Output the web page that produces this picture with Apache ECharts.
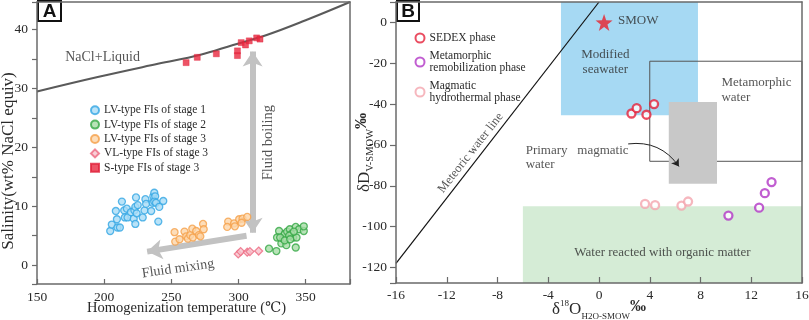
<!DOCTYPE html>
<html>
<head>
<meta charset="utf-8">
<script src="https://cdn.jsdelivr.net/npm/echarts@6/dist/echarts.min.js"></script>
<style>html,body{margin:0;padding:0;background:#fff}#c{width:809px;height:320px}</style>
</head>
<body>
<div id="c"></div>
<script>
// ---------- Panel A data ----------
const haliteCurve = [[150,29.5],[196,32.0],[240,34.2],[271,35.7],[296,37.4],[321,39.1],[350,41.6],[383,44.7]];
const lvStage1 = [[204.5,5.8],[205.7,6.9],[209.9,6.4],[211.7,6.4],[209.5,7.8],[208.7,9.2],[213.2,10.8],[214.9,9.3],[216.9,9.6],[215.4,8.1],[217.4,8.1],[219.9,9.0],[222.5,9.3],[222.0,7.9],[223.2,9.9],[223.7,11.5],[223.2,7.0],[224.2,8.8],[225.0,10.2],[228.7,8.1],[230.7,11.2],[230.0,9.3],[231.2,10.4],[235.0,9.2],[236.1,10.6],[236.6,11.7],[237.3,12.3],[238.0,11.7],[237.3,10.8],[238.6,10.6],[240.3,7.4],[241.0,9.9],[244.0,10.9]];
const lvStage2 = [[330.2,5.8],[328.7,4.7],[322.7,2.8],[328.2,2.4],[331.9,3.7],[335.6,3.4],[342.6,3.0],[333.2,4.5],[334.4,5.3],[336.2,5.7],[338.2,6.1],[339.5,5.3],[340.7,4.7],[343.2,4.7],[342.6,6.5],[345.1,6.1],[348.6,5.8],[348.6,6.6],[337.7,5.0],[341.2,5.7],[331.0,4.7],[334.4,4.2],[338.5,4.4]];
const lvStage3 = [[252.4,5.6],[252.9,4.0],[256.1,4.4],[259.8,5.7],[261.1,4.9],[262.3,4.5],[264.1,5.1],[265.6,6.2],[266.0,4.7],[268.5,5.8],[270.5,5.1],[273.6,7.0],[274.1,6.1],[271.6,4.9],[292.3,7.4],[291.6,6.5],[296.7,7.1],[297.3,6.6],[300.5,7.8],[303.0,7.9],[302.3,7.2],[306.5,8.2]];
const vlStage3 = [[299.8,1.9],[301.6,2.3],[306.5,2.2],[308.5,2.3],[315.0,2.4]];
const sStage3 = [[261,34.4],[269.3,35.3],[283.5,35.9],[299.2,36.4],[299.2,35.6],[302,37.8],[305.2,37.4],[308,38.1],[313.5,38.6],[316,38.4]];
const boilingArrow = [[310.5,5.5],[310.5,36.3]];
const mixingArrow = [[306,5.0],[232,2.3]];
const aNames = ['LV-type FIs of stage 1','LV-type FIs of stage 2','LV-type FIs of stage 3','VL-type FIs of stage 3','S-type FIs of stage 3'];
const aXTicks = [150,200,250,300,350];
const aYTicks = [0,10,20,30,40];

// ---------- Panel B data ----------
const sedex = [[2.56,-44.6],[2.97,-42.0],[3.74,-45.2],[4.34,-40.0]];
const metaRemob = [[10.2,-94.6],[12.62,-90.7],[13.07,-83.6],[13.6,-78.2]];
const magHydro = [[3.63,-88.9],[4.42,-89.5],[6.5,-89.7],[7.02,-87.7]];
const smow = [[0.4,0]];
const meteoricLine = [[-16,-118],[0,10]];
const seawaterBox = [[-3,10],[7.8,-45.5]];
const metamorphicBox = [[4,-19],[16,-68]];
const magmaticBox = [[5.5,-39],[9.3,-79]];
const organicBox = [[-6,-90],[16,-127.6]];
const leaderArrow = [[2.3,-59.5],[6.3,-70.5]];
const bNames = ['SEDEX phase','Metamorphic\nremobilization phase','Magmatic\nhydrothermal phase'];
const bXTicks = [-16,-12,-8,-4,0,4,8,12,16];
const bYTicks = [0,-20,-40,-60,-80,-100,-120];

const serif = '"Liberation Serif","DejaVu Serif",serif';
const axisColor = '#6a6a6a';
const txt = '#2a2a2a';

function frameAxis(grid, pos, min, max) {
  return {type:'value', gridIndex:grid, position:pos, min:min, max:max, z:6,
    axisLine:{show:true, onZero:false, lineStyle:{color:axisColor, width:1.5}},
    axisTick:{show:false}, axisLabel:{show:false}, splitLine:{show:false}};
}
function textItems(list) {
  return list.map(t => ({value:[t[0],t[1]], name:t[2], label:t[3] || {}}));
}
function textSeries(xi, yi, list, base) {
  return {type:'scatter', xAxisIndex:xi, yAxisIndex:yi, symbolSize:0, silent:true, z:8,
    label:Object.assign({show:true, position:'inside', formatter:'{b}', fontFamily:serif, color:txt, fontSize:13}, base||{}),
    data:textItems(list)};
}
const tickFmt = (ticks) => (v => ticks.indexOf(Math.round(v*1000)/1000) >= 0 ? String(v) : '');

const chart = echarts.init(document.getElementById('c'), null, {renderer:'canvas'});
const option = {
  animation:false,
  backgroundColor:'#fff',
  grid:[{left:37, top:2, width:313, height:282, outerBoundsMode:'none', containLabel:false},
        {left:396, top:2, width:406, height:281, outerBoundsMode:'none', containLabel:false}],
  xAxis:[
    {type:'value', gridIndex:0, min:150, max:383, interval:50, z:6,
     axisLine:{onZero:false, lineStyle:{color:axisColor, width:1.5}},
     axisTick:{inside:true, length:5, lineStyle:{color:axisColor, width:1.2}},
     axisLabel:{margin:6, fontFamily:serif, fontSize:13.5, color:txt, formatter:tickFmt(aXTicks)},
     splitLine:{show:false},
     name:'Homogenization temperature (℃)', nameLocation:'middle', nameGap:17, nameMoveOverlap:false,
     nameTextStyle:{fontFamily:serif, fontSize:14.5, color:txt, padding:[0,14,0,0]}},
    frameAxis(0,'top',150,383),
    {type:'value', gridIndex:1, min:-16, max:16, interval:4, z:6,
     axisLine:{onZero:false, lineStyle:{color:axisColor, width:1.5}},
     axisTick:{inside:true, length:6, lineStyle:{color:axisColor, width:1.2}},
     axisLabel:{margin:5, fontFamily:serif, fontSize:13.5, color:txt, formatter:tickFmt(bXTicks)},
     splitLine:{show:false},
     name:'{d|δ}{sup|18}{o|O}{sub|H2O-SMOW}{pm|‰}', nameLocation:'middle', nameGap:16, nameMoveOverlap:false,
     nameTextStyle:{fontFamily:serif, color:txt, rich:{
       d:{fontFamily:serif, fontSize:17, lineHeight:22, color:txt},
       sup:{fontFamily:serif, fontSize:9, lineHeight:9, verticalAlign:'top', color:txt},
       o:{fontFamily:serif, fontSize:17, lineHeight:22, color:txt},
       sub:{fontFamily:serif, fontSize:9, lineHeight:9, verticalAlign:'bottom', color:txt},
       pm:{fontFamily:serif, fontSize:16, lineHeight:22, color:txt, fontWeight:'bold', padding:[0,0,6,0]}}}},
    frameAxis(1,'top',-16,16)
  ],
  yAxis:[
    {type:'value', gridIndex:0, min:-3.2, max:44.7, minInterval:5, maxInterval:5, z:6,
     axisLine:{onZero:false, lineStyle:{color:axisColor, width:1.5}},
     axisTick:{length:5, lineStyle:{color:axisColor, width:1.2}},
     axisLabel:{margin:9, fontFamily:serif, fontSize:13.5, color:txt, formatter:tickFmt(aYTicks)},
     splitLine:{show:false},
     name:'Salinity(wt% NaCl equiv)', nameLocation:'middle', nameGap:20, nameRotate:90, nameMoveOverlap:false,
     nameTextStyle:{fontFamily:serif, fontSize:17, color:txt, padding:[0,36,0,0]}},
    frameAxis(0,'right',-3.2,44.7),
    {type:'value', gridIndex:1, min:-127.6, max:10, minInterval:20, maxInterval:20, z:6,
     axisLine:{onZero:false, lineStyle:{color:axisColor, width:1.5}},
     axisTick:{length:6, lineStyle:{color:axisColor, width:1.2}},
     axisLabel:{margin:9, fontFamily:serif, fontSize:13.5, color:txt, formatter:tickFmt(bYTicks)},
     splitLine:{show:false},
     name:'{d|δD}{sub|V-SMOW}{pm|‰}', nameLocation:'middle', nameGap:20, nameRotate:90, nameMoveOverlap:false,
     nameTextStyle:{fontFamily:serif, color:txt, padding:[0,20,0,0], rich:{
       d:{fontFamily:serif, fontSize:17, lineHeight:22, color:txt},
       sub:{fontFamily:serif, fontSize:10.5, lineHeight:10, verticalAlign:'bottom', color:txt},
       pm:{fontFamily:serif, fontSize:16, lineHeight:22, color:txt, fontWeight:'bold', padding:[0,0,6,0]}}}},
    frameAxis(1,'right',-127.6,10)
  ],
  legend:[
    {left:90, top:103, padding:0, orient:'vertical', itemWidth:8, itemHeight:8, itemGap:0, selectedMode:false,
     textStyle:{fontFamily:serif, fontSize:11.5, color:txt, lineHeight:14.4}, data:aNames},
    {left:414.5, top:32, padding:0, orient:'vertical', itemWidth:9, itemHeight:9, itemGap:6, selectedMode:false,
     textStyle:{fontFamily:serif, fontSize:11.5, color:txt, lineHeight:12}, data:bNames}
  ],
  graphic:[
    {type:'group', left:37, top:0, z:100, children:[
      {type:'rect', shape:{x:0,y:0,width:23,height:20}, style:{fill:'#fff', stroke:'#111', lineWidth:2}},
      {type:'text', style:{text:'A', x:11.5, y:10.5, align:'center', verticalAlign:'middle', font:'bold 19px "Liberation Sans", Arial, sans-serif', fill:'#111'}}]},
    {type:'group', left:396, top:0, z:100, children:[
      {type:'rect', shape:{x:0,y:0,width:22,height:20}, style:{fill:'#fff', stroke:'#111', lineWidth:2}},
      {type:'text', style:{text:'B', x:11, y:10.5, align:'center', verticalAlign:'middle', font:'bold 19px "Liberation Sans", Arial, sans-serif', fill:'#111'}}]}
  ],
  series:[
    // ---- Panel A ----
    {type:'line', name:'halite', xAxisIndex:0, yAxisIndex:0, data:haliteCurve, smooth:0.4, showSymbol:false, silent:true,
     lineStyle:{color:'#5a5a5a', width:2}, z:3},
    {type:'lines', coordinateSystem:'cartesian2d', xAxisIndex:0, yAxisIndex:0, silent:true, z:2,
     symbol:['arrow','arrow'], symbolSize:15,
     lineStyle:{color:'#c2c2c2', width:6, opacity:1},
     data:[{coords:boilingArrow}]},
    {type:'lines', coordinateSystem:'cartesian2d', xAxisIndex:0, yAxisIndex:0, silent:true, z:2,
     symbol:['none','arrow'], symbolSize:15,
     lineStyle:{color:'#c2c2c2', width:6, opacity:1},
     data:[{coords:mixingArrow}]},
    {type:'scatter', name:aNames[0], xAxisIndex:0, yAxisIndex:0, data:lvStage1, symbol:'circle', symbolSize:7, z:4,
     itemStyle:{color:'#a9dcf6', borderColor:'#33a6e4', borderWidth:1.3}},
    {type:'scatter', name:aNames[1], xAxisIndex:0, yAxisIndex:0, data:lvStage2, symbol:'circle', symbolSize:7, z:4,
     itemStyle:{color:'#a6dca6', borderColor:'#35a845', borderWidth:1.3}},
    {type:'scatter', name:aNames[2], xAxisIndex:0, yAxisIndex:0, data:lvStage3, symbol:'circle', symbolSize:7, z:4,
     itemStyle:{color:'#fdd5a8', borderColor:'#f5a04a', borderWidth:1.3}},
    {type:'scatter', name:aNames[3], xAxisIndex:0, yAxisIndex:0, data:vlStage3, symbol:'diamond', symbolSize:8, z:4,
     itemStyle:{color:'#f8c2cc', borderColor:'#ec6880', borderWidth:1.2}},
    {type:'scatter', name:aNames[4], xAxisIndex:0, yAxisIndex:0, data:sStage3, symbol:'rect', symbolSize:6, z:4,
     itemStyle:{color:'#e8283f', borderColor:'#e0203a', borderWidth:0.5}},
    textSeries(0,0,[[171,35.3,'NaCl+Liquid',{align:'left', fontSize:14}]]),
    textSeries(0,0,[[322.1,20.8,'Fluid boiling',{rotate:90, fontSize:14.5}],[255,-0.6,'Fluid mixing',{rotate:8, fontSize:14}]]),
    // ---- Panel B ----
    {type:'line', name:'regions', xAxisIndex:2, yAxisIndex:2, data:[], silent:true, z:1,
     markArea:{silent:true, label:{show:false}, data:[
       [{coord:seawaterBox[0], itemStyle:{color:'#a6d9f3', borderWidth:0}}, {coord:seawaterBox[1]}],
       [{coord:organicBox[0], itemStyle:{color:'#d5ecd6', borderWidth:0}}, {coord:organicBox[1]}],
       [{coord:metamorphicBox[0], itemStyle:{color:'rgba(0,0,0,0)', borderColor:'#555', borderWidth:1}}, {coord:metamorphicBox[1]}],
       [{coord:magmaticBox[0], itemStyle:{color:'#c8c8c8', borderWidth:0}}, {coord:magmaticBox[1]}]
     ]}},
    {type:'line', name:'meteoric', xAxisIndex:2, yAxisIndex:2, data:meteoricLine, showSymbol:false, silent:true, z:3,
     lineStyle:{color:'#111', width:1.2}},
    {type:'lines', coordinateSystem:'cartesian2d', xAxisIndex:2, yAxisIndex:2, silent:true, z:3,
     symbol:['none','arrow'], symbolSize:7,
     lineStyle:{color:'#222', width:1, curveness:0.3, opacity:1},
     data:[{coords:leaderArrow}]},
    {type:'scatter', name:'SMOW', xAxisIndex:2, yAxisIndex:2, data:smow, symbol:'path://M0,-10L2.35,-3.24L9.51,-3.09L3.8,1.24L5.88,8.09L0,4L-5.88,8.09L-3.8,1.24L-9.51,-3.09L-2.35,-3.24Z', symbolSize:17, z:4,
     itemStyle:{color:'#e8202c'}},
    {type:'scatter', name:bNames[0], xAxisIndex:2, yAxisIndex:2, data:sedex, symbol:'circle', symbolSize:8, z:4,
     itemStyle:{color:'#fff', borderColor:'#e5213a', borderWidth:2.3}},
    {type:'scatter', name:bNames[1], xAxisIndex:2, yAxisIndex:2, data:metaRemob, symbol:'circle', symbolSize:8, z:4,
     itemStyle:{color:'#fff', borderColor:'#b236c6', borderWidth:2.3}},
    {type:'scatter', name:bNames[2], xAxisIndex:2, yAxisIndex:2, data:magHydro, symbol:'circle', symbolSize:8, z:4,
     itemStyle:{color:'#fff', borderColor:'#f4a5ae', borderWidth:2.3}},
    textSeries(2,2,[
      [1.5,1,'SMOW',{align:'left'}],
      [0.5,-19.3,'Modified\nseawater',{lineHeight:15}],
      [9.65,-33.3,'Metamorphic\nwater',{align:'left', lineHeight:15}],
      [-5.78,-66.3,'Primary   magmatic\nwater',{align:'left', lineHeight:14}],
      [5.0,-112.7,'Water reacted with organic matter',{}],
      [-10.12,-63.9,'Meteoric water line',{rotate:52, fontSize:12.5}]
    ])
  ]
};
chart.setOption(option);
</script>
</body>
</html>
